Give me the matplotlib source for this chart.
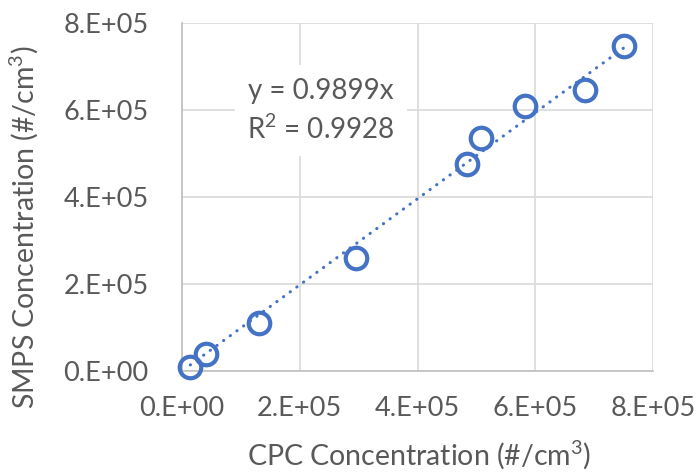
import numpy as np
import matplotlib.pyplot as plt
from matplotlib.ticker import FuncFormatter

# CPC vs SMPS number concentration (#/cm3)
cpc = [1.4e4, 4.1e4, 1.31e5, 2.95e5, 4.84e5, 5.08e5, 5.82e5, 6.84e5, 7.51e5]
smps = [1.0e4, 3.9e4, 1.11e5, 2.60e5, 4.77e5, 5.36e5, 6.09e5, 6.46e5, 7.47e5]
slope = 0.9899
r2 = 0.9928

blue = '#4472C4'
grey = '#595959'

plt.rcParams['font.family'] = ['Lato', 'DejaVu Sans']
plt.rcParams['mathtext.fontset'] = 'custom'
plt.rcParams['mathtext.rm'] = 'Lato'
plt.rcParams['mathtext.default'] = 'rm'

fig = plt.figure(figsize=(6.97, 4.74), dpi=100)
ax = fig.add_axes([182/697, 1 - 371/474, (653 - 182)/697, (371 - 23)/474])

# trendline through origin, over the data range
xt = np.array([min(cpc), max(cpc)])
ax.plot(xt, slope * xt, color=blue, lw=2.2, linestyle=(0, (0.1, 2.6)),
        dash_capstyle='round', zorder=2)
ax.plot(cpc, smps, 'o', ms=15.5, mfc='none', mec=blue, mew=3, zorder=3,
        clip_on=False)

ax.set_xlim(0, 8e5)
ax.set_ylim(0, 8e5)
ticks = np.arange(0, 8.01e5, 2e5)
ax.set_xticks(ticks)
ax.set_yticks(ticks)
fmt = FuncFormatter(lambda v, p: '{:#.0E}'.format(v))
ax.xaxis.set_major_formatter(fmt)
ax.yaxis.set_major_formatter(fmt)
ax.tick_params(length=0, labelsize=19.5, colors=grey)
ax.tick_params(axis='x', pad=18)
ax.tick_params(axis='y', pad=24)
ax.grid(True, color='#d9d9d9', lw=1.2)
ax.set_axisbelow(True)
for s in ['top', 'right']:
    ax.spines[s].set_visible(False)
for s in ['left', 'bottom']:
    ax.spines[s].set_color('#bfbfbf')
    ax.spines[s].set_linewidth(1.2)

ax.text(2.36e5, 5.98e5, 'y = {:.4f}x\nR$^2$ = {:.4f}'.format(slope, r2),
        ha='center', va='center', fontsize=20, color=grey, linespacing=1.45,
        bbox=dict(facecolor='white', edgecolor='none', pad=9), zorder=4)

fig.text(419/697, 1 - 455/474, 'CPC Concentration (#/cm$^3$)', ha='center',
         va='center', fontsize=20.5, color=grey)
fig.text(24/697, 1 - 227/474, 'SMPS Concentration (#/cm$^3$)', ha='center',
         va='center', rotation=90, fontsize=20.5, color=grey)

fig.savefig('out.png', dpi=100)
